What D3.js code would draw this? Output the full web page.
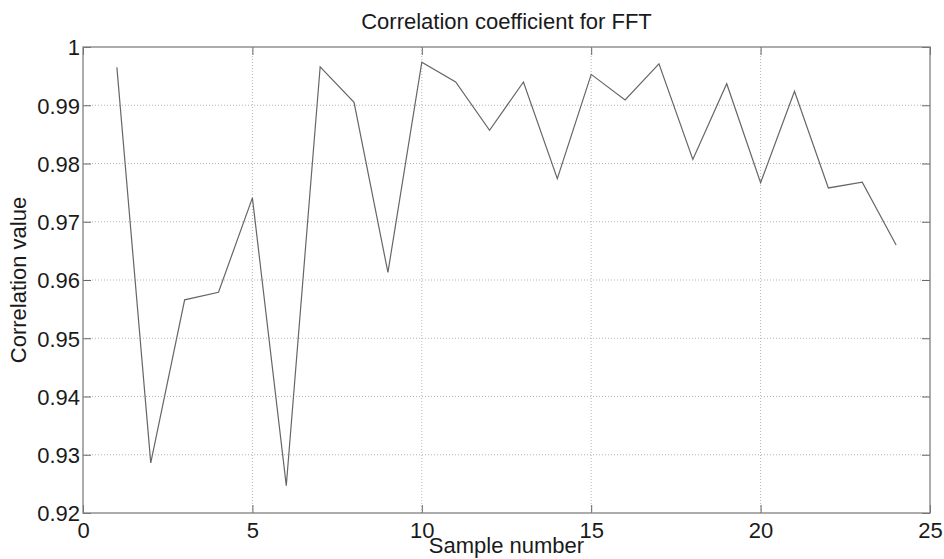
<!DOCTYPE html>
<html>
<head>
<meta charset="utf-8">
<script src="https://cdn.jsdelivr.net/npm/d3@7"></script>
<style>
  body { margin: 0; background: #fff; }
  svg { display: block; font-family: "Liberation Sans", Arial, sans-serif; }
  .grid line { stroke: #b4b4b4; stroke-dasharray: 1,2; }
</style>
</head>
<body>
<svg width="944" height="559"></svg>
<script>
// sample numbers and correlation values
var samples = [1, 2, 3, 4, 5, 6, 7, 8, 9, 10, 11, 12, 13, 14, 15, 16, 17, 18, 19, 20, 21, 22, 23, 24];
var corr = [0.9965, 0.9286, 0.9566, 0.9579, 0.9741, 0.9247, 0.9966, 0.9905, 0.9613, 0.9974,
            0.9940, 0.9857, 0.9940, 0.9774, 0.9953, 0.9909, 0.9971, 0.9807, 0.9937, 0.9767,
            0.9924, 0.9758, 0.9768, 0.9660];
var xTicks = [0, 5, 10, 15, 20, 25];
var yTicks = [0.92, 0.93, 0.94, 0.95, 0.96, 0.97, 0.98, 0.99, 1];

var margin = { top: 47, right: 14, bottom: 46, left: 83 },
    width = 944 - margin.left - margin.right,
    height = 559 - margin.top - margin.bottom;

var xScale = d3.scaleLinear().domain([0, 25]).range([0, width]);
var yScale = d3.scaleLinear().domain([0.92, 1]).range([height, 0]);

var svg = d3.select("svg")
    .append("g")
    .attr("transform", "translate(" + margin.left + "," + margin.top + ")");

// dotted grid
svg.append("g")
    .attr("class", "grid")
    .selectAll("line")
    .data(xTicks.slice(1, -1))
    .enter().append("line")
    .attr("x1", function (d) { return xScale(d); })
    .attr("x2", function (d) { return xScale(d); })
    .attr("y1", 0)
    .attr("y2", height);

svg.append("g")
    .attr("class", "grid")
    .selectAll("line")
    .data(yTicks.slice(1, -1))
    .enter().append("line")
    .attr("x1", 0)
    .attr("x2", width)
    .attr("y1", function (d) { return yScale(d); })
    .attr("y2", function (d) { return yScale(d); });

// axes, ticks pointing inwards on all four sides
function styleAxis(g) {
    g.select(".domain").remove();
    g.selectAll(".tick line").attr("stroke", "#666");
    g.selectAll(".tick text").attr("fill", "#1a1a1a").style("font-size", "22px");
}

svg.append("g")
    .attr("transform", "translate(0," + height + ")")
    .call(d3.axisBottom(xScale).tickValues(xTicks).tickSize(-8).tickPadding(9).tickFormat(d3.format("d")))
    .call(styleAxis)
    .call(function (g) { g.selectAll(".tick text").attr("dy", "0.71em"); });

svg.append("g")
    .call(d3.axisTop(xScale).tickValues(xTicks).tickSize(-8).tickFormat(""))
    .call(styleAxis);

svg.append("g")
    .call(d3.axisLeft(yScale).tickValues(yTicks).tickSize(-8).tickPadding(3)
        .tickFormat(function (d) { return d === 1 ? "1" : d3.format(".2f")(d); }))
    .call(styleAxis)
    .call(function (g) { g.selectAll(".tick text").attr("x", -3).attr("dy", "0.36em"); });

svg.append("g")
    .attr("transform", "translate(" + width + ",0)")
    .call(d3.axisRight(yScale).tickValues(yTicks).tickSize(-8).tickFormat(""))
    .call(styleAxis);

// frame
svg.append("rect")
    .attr("width", width)
    .attr("height", height)
    .attr("fill", "none")
    .attr("stroke", "#808080")
    .attr("stroke-width", 1.3);

// data line
var line = d3.line()
    .x(function (d, i) { return xScale(samples[i]); })
    .y(function (d) { return yScale(d); });

svg.append("path")
    .datum(corr)
    .attr("fill", "none")
    .attr("stroke", "#666")
    .attr("stroke-width", 1.2)
    .attr("d", line);

// labels
svg.append("text")
    .attr("x", width / 2)
    .attr("y", -18)
    .attr("text-anchor", "middle")
    .attr("fill", "#1a1a1a")
    .style("font-size", "22px")
    .text("Correlation coefficient for FFT");

svg.append("text")
    .attr("x", width / 2)
    .attr("y", height + 40)
    .attr("text-anchor", "middle")
    .attr("fill", "#1a1a1a")
    .style("font-size", "22px")
    .text("Sample number");

svg.append("text")
    .attr("transform", "rotate(-90)")
    .attr("x", -height / 2)
    .attr("y", -57)
    .attr("text-anchor", "middle")
    .attr("fill", "#1a1a1a")
    .style("font-size", "22px")
    .text("Correlation value");
</script>
</body>
</html>
